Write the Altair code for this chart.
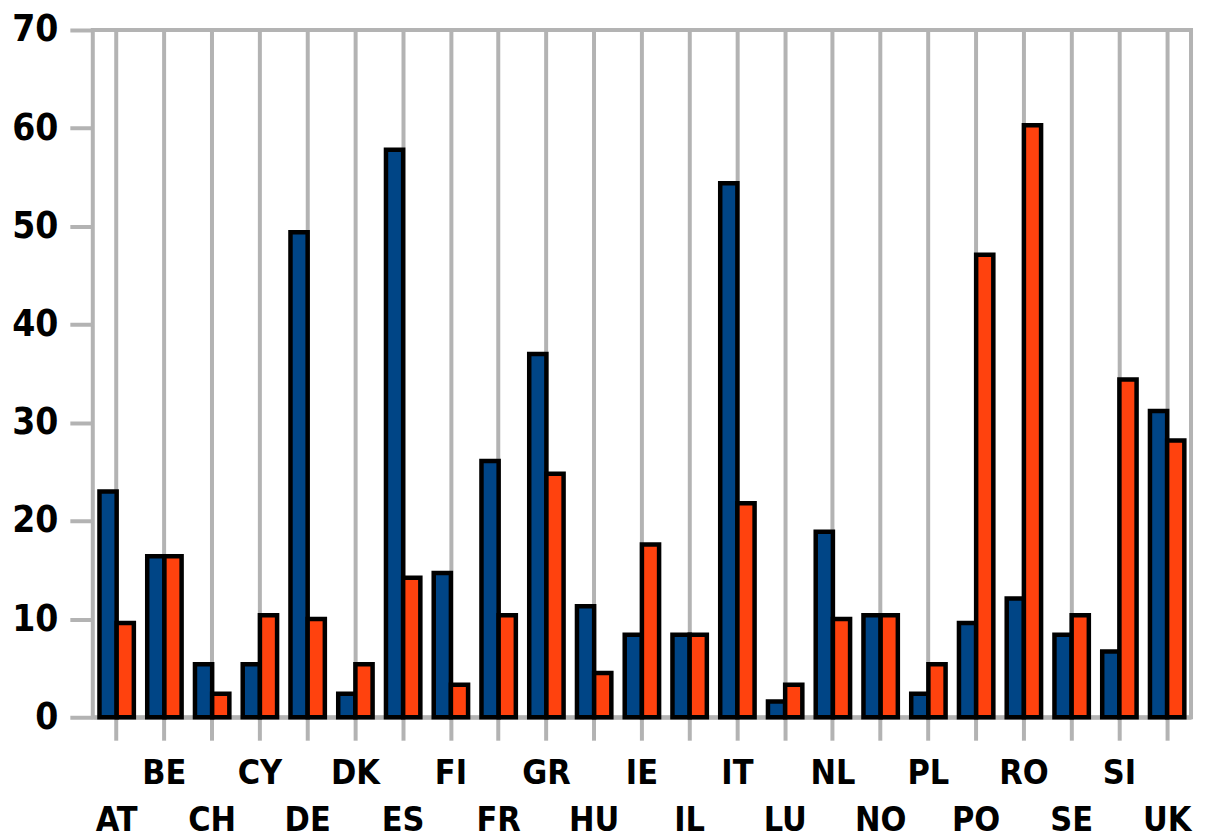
import altair as alt
import pandas as pd

countries = ["AT", "BE", "CH", "CY", "DE", "DK", "ES", "FI", "FR", "GR", "HU", "IE",
             "IL", "IT", "LU", "NL", "NO", "PL", "PO", "RO", "SE", "SI", "UK"]
series_a = [23.0, 16.4, 5.4, 5.4, 49.4, 2.4, 57.8, 14.7, 26.1, 37.0, 11.3, 8.4,
            8.4, 54.4, 1.6, 18.9, 10.4, 2.4, 9.6, 12.1, 8.4, 6.7, 31.2]
series_b = [9.6, 16.4, 2.4, 10.4, 10.0, 5.4, 14.2, 3.3, 10.4, 24.8, 4.5, 17.6,
            8.4, 21.8, 3.3, 10.0, 10.4, 5.4, 47.1, 60.3, 10.4, 34.4, 28.2]
series_names = ["A", "B"]
colors = ["#004586", "#ff420e"]
y_ticks = [0, 10, 20, 30, 40, 50, 60, 70]

rows = []
for c, a, b in zip(countries, series_a, series_b):
    rows.append({"country": c, "series": series_names[0], "value": a})
    rows.append({"country": c, "series": series_names[1], "value": b})
df = pd.DataFrame(rows)

cat_list = ",".join(f"'{c}'" for c in countries)
label_expr = (f"indexof([{cat_list}], datum.value) % 2 == 1 ? "
              f"[datum.label, ''] : ['', datum.label]")

GRAY = "#b3b3b3"
FONT = "DejaVu Sans Condensed, DejaVu Sans"

chart = alt.Chart(df).mark_bar(
    stroke="black", strokeWidth=4.5, strokeJoin="miter"
).encode(
    x=alt.X("country:N", sort=countries,
            scale=alt.Scale(paddingInner=0.28, paddingOuter=0.14),
            axis=alt.Axis(title=None, labelAngle=0, grid=True, gridColor=GRAY,
                          gridWidth=4, gridOpacity=1, domain=True, domainColor=GRAY,
                          domainWidth=4, tickColor=GRAY, tickWidth=4, tickSize=23,
                          labelExpr=label_expr, labelFont=FONT, labelFontSize=34,
                          labelFontWeight="bold", labelColor="black",
                          labelPadding=16, labelLineHeight=48, labelBaseline="top",
                          labelOverlap=False, bandPosition=0.5)),
    xOffset=alt.XOffset("series:N", sort=series_names, scale=alt.Scale(paddingInner=0, paddingOuter=0)),
    y=alt.Y("value:Q", scale=alt.Scale(domain=[0, 70], nice=False),
            axis=alt.Axis(title=None, values=y_ticks, grid=False, domain=False,
                          tickColor=GRAY, tickWidth=4, tickSize=23,
                          labelFont=FONT, labelFontSize=37, labelFontWeight="bold",
                          labelColor="black", labelPadding=12)),
    color=alt.Color("series:N", sort=series_names,
                    scale=alt.Scale(domain=series_names, range=colors), legend=None),
).properties(
    width=1101, height=689,
    autosize=alt.AutoSizeParams(type="none"),
    padding={"left": 85, "top": 21, "right": 8, "bottom": 120},
).configure_view(
    stroke=GRAY, strokeWidth=4
)

chart.save("out.html", embed_options={"renderer": "svg", "actions": False})
